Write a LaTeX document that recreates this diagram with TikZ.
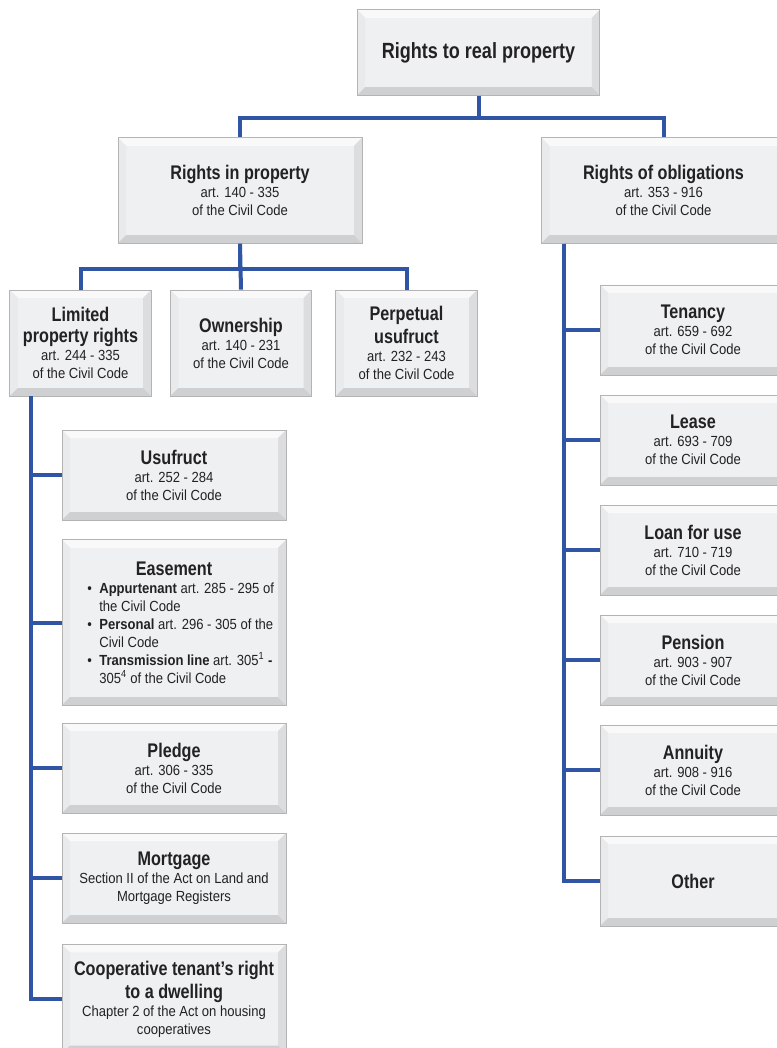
\documentclass[tikz,border=0pt]{standalone}
\usepackage{fontspec}
\setmainfont{Liberation Sans}[FakeStretch=0.82]
\newfontfamily\artfont{Liberation Sans}[FakeStretch=0.89]
\usepackage{tikz}
\usetikzlibrary{positioning}
\usepackage{xcolor}

\definecolor{linkblue}{HTML}{2F55A4}
\definecolor{boxface}{HTML}{EFF0F2}
\definecolor{boxline}{HTML}{B4B4B4}
\definecolor{bvtop}{HTML}{F9F9FA}
\definecolor{bvleft}{HTML}{E9EAEC}
\definecolor{bvright}{HTML}{DCDDDF}
\definecolor{bvbottom}{HTML}{CFD0D2}
\definecolor{inktext}{HTML}{222222}

\newcommand{\bevw}{6pt}
\newcommand{\hd}[1]{{\fontsize{14.8}{16}\selectfont\rmfamily\bfseries #1}}
\newcommand{\ar}[1]{{\artfont #1}}
\newcommand{\itm}[1]{\par\hangindent=20pt\hangafter=1\noindent\makebox[20pt][l]{\hspace{11pt}\textbullet}#1}

\begin{document}
\begin{tikzpicture}[x=0.75pt,y=-0.75pt,
          every node/.style={text=inktext},
          link/.style={draw=linkblue,line width=3pt},
          blk/.style={draw=boxline,line width=0.6pt,fill=boxface,align=center,inner sep=2pt,
            font=\fontsize{11}{13.5}\selectfont,
            path picture={
              \fill[bvtop] (path picture bounding box.north west) -- (path picture bounding box.north east)
                -- ([xshift=-\bevw,yshift=-\bevw]path picture bounding box.north east)
                -- ([xshift=\bevw,yshift=-\bevw]path picture bounding box.north west) -- cycle;
              \fill[bvleft] (path picture bounding box.north west) -- (path picture bounding box.south west)
                -- ([xshift=\bevw,yshift=\bevw]path picture bounding box.south west)
                -- ([xshift=\bevw,yshift=-\bevw]path picture bounding box.north west) -- cycle;
              \fill[bvright] (path picture bounding box.north east) -- (path picture bounding box.south east)
                -- ([xshift=-\bevw,yshift=\bevw]path picture bounding box.south east)
                -- ([xshift=-\bevw,yshift=-\bevw]path picture bounding box.north east) -- cycle;
              \fill[bvbottom] (path picture bounding box.south west) -- (path picture bounding box.south east)
                -- ([xshift=-\bevw,yshift=\bevw]path picture bounding box.south east)
                -- ([xshift=\bevw,yshift=\bevw]path picture bounding box.south west) -- cycle;
            }},
          wide/.style={blk,minimum width=183pt,minimum height=79pt},
          mid/.style={blk,minimum width=106pt,minimum height=79.5pt},
          leftcol/.style={blk,minimum width=168pt,minimum height=67.5pt},
          rightcol/.style={blk,minimum width=139.5pt,minimum height=67.5pt},
        ]
        \clip (0,0) rectangle (777,1048);

        % top levels
        \node[blk,minimum width=182pt,minimum height=64pt] (root) at (478.5,52.5) {{\fontsize{16.5}{18}\selectfont\bfseries Rights to real property}};
        \node[wide] (inprop) at (240,190.5) {\hd{Rights in property}\\ \ar{art. 140 - 335}\\ \ar{of the Civil Code}};
        \node[wide] (oblig) at (663.5,190.5) {\hd{Rights of obligations}\\ \ar{art. 353 - 916}\\ \ar{of the Civil Code}};

        \node[mid] (limited) at (80.5,343) {\hd{Limited}\\[2.25pt] \hd{property rights}\\ \ar{art. 244 - 335}\\ \ar{of the Civil Code}};
        \node[mid] (owner) at (241,343) {\hd{Ownership}\\ \ar{art. 140 - 231}\\ \ar{of the Civil Code}};
        \node[mid] (perpet) at (406.5,343) {\hd{Perpetual}\\[2.25pt] \hd{usufruct}\\ \ar{art. 232 - 243}\\ \ar{of the Civil Code}};

        % limited property rights
        \node[leftcol] (usufruct) at (174,475) {\hd{Usufruct}\\ \ar{art. 252 - 284}\\ \ar{of the Civil Code}};
        \node[leftcol,minimum height=124pt] (easement) at (174,622.5) {\hd{Easement}\\
          \begin{minipage}[t]{152pt}\artfont\fontsize{11}{13.5}\selectfont\raggedright
            \itm{\textbf{Appurtenant} art. 285 - 295 of the Civil Code}
            \itm{\textbf{Personal} art. 296 - 305 of the Civil Code}
            \itm{\textbf{Transmission line} art. 305\textsuperscript{1} \textbf{-} 305\textsuperscript{4} of the Civil Code}
          \end{minipage}};
        \node[leftcol] (pledge) at (174,768) {\hd{Pledge}\\ \ar{art. 306 - 335}\\ \ar{of the Civil Code}};
        \node[leftcol] (mortgage) at (174,878) {\hd{Mortgage}\\ \ar{Section II of the Act on Land and}\\ \ar{Mortgage Registers}};
        \node[leftcol,minimum height=82pt] (coop) at (174,999) {\hd{Cooperative tenant’s right}\\[2.25pt] \hd{to a dwelling}\\ \ar{Chapter 2 of the Act on housing}\\ \ar{cooperatives}};

        % obligations
        \node[rightcol] (tenancy) at (693,330) {\hd{Tenancy}\\ \ar{art. 659 - 692}\\ \ar{of the Civil Code}};
        \node[rightcol] (lease) at (693,440) {\hd{Lease}\\ \ar{art. 693 - 709}\\ \ar{of the Civil Code}};
        \node[rightcol] (loan) at (693,550) {\hd{Loan for use}\\ \ar{art. 710 - 719}\\ \ar{of the Civil Code}};
        \node[rightcol] (pension) at (693,660) {\hd{Pension}\\ \ar{art. 903 - 907}\\ \ar{of the Civil Code}};
        \node[rightcol] (annuity) at (693,770) {\hd{Annuity}\\ \ar{art. 908 - 916}\\ \ar{of the Civil Code}};
        \node[rightcol] (other) at (693,881) {\hd{Other}};

        % connectors
        \draw[link] (root.south) -- ++(0,22) -| (inprop.north);
        \draw[link] (root.south) -- ++(0,22) -| (oblig.north);
        \draw[link] (inprop.south) -- ++(0,25) -| (limited.north);
        \draw[link] (inprop.south) -- (owner.north);
        \draw[link] (inprop.south) -- ++(0,25) -| (perpet.north);

        \draw[link] (limited.south west) ++(22,0) |- (usufruct.west);
        \draw[link] (limited.south west) ++(22,0) |- (easement.west);
        \draw[link] (limited.south west) ++(22,0) |- (pledge.west);
        \draw[link] (limited.south west) ++(22,0) |- (mortgage.west);
        \draw[link] (limited.south west) ++(22,0) |- (coop.west);

        \draw[link] (oblig.south west) ++(23,0) |- (tenancy.west);
        \draw[link] (oblig.south west) ++(23,0) |- (lease.west);
        \draw[link] (oblig.south west) ++(23,0) |- (loan.west);
        \draw[link] (oblig.south west) ++(23,0) |- (pension.west);
        \draw[link] (oblig.south west) ++(23,0) |- (annuity.west);
        \draw[link] (oblig.south west) ++(23,0) |- (other.west);
      \end{tikzpicture}
\end{document}
